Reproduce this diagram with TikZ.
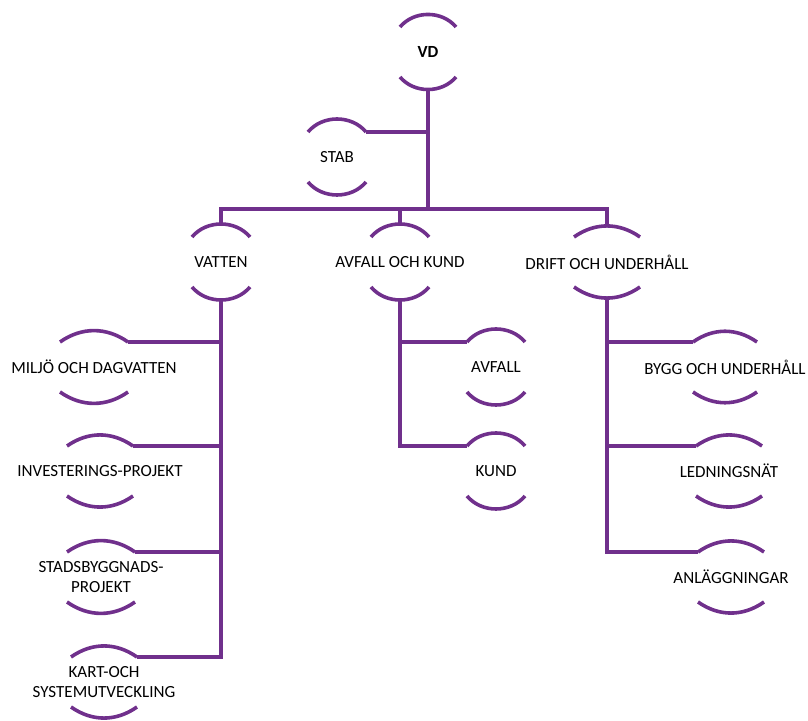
\documentclass[tikz,border=0pt]{standalone}
\usepackage{fontspec}
\setmainfont{Carlito}
\usetikzlibrary{calc}

\definecolor{orgpurple}{RGB}{112,48,140}
\tikzset{
  orgline/.style={draw=orgpurple, line width=3.6pt},
  unit/.style={align=center, inner sep=0pt, font=\fontsize{17}{19.5}\selectfont},
}
% two arcs round a unit, with named end points
\newcommand{\rim}[3]{%
  \draw[orgline] ($(#1)+(-#2,25)$) coordinate (#1-tl) to[bend left=#3] node[coordinate, pos=.5] (#1-top) {} ($(#1)+(#2,25)$) coordinate (#1-tr);
  \draw[orgline] ($(#1)+(-#2,-25)$) coordinate (#1-bl) to[bend right=#3] node[coordinate, pos=.5] (#1-bot) {} ($(#1)+(#2,-25)$) coordinate (#1-br);
}

\begin{document}
\begin{tikzpicture}[x=1pt, y=1pt]
  \useasboundingbox (0,0) rectangle (808,720);
  \node[unit, font=\fontsize{17}{19.5}\selectfont\bfseries] (vd) at (428,668) {VD};
  \node[unit] (stab) at (337,563) {STAB};
  \node[unit] (vatten) at (221,458) {VATTEN};
  \node[unit] (avfallkund) at (400,458) {AVFALL OCH KUND};
  \node[unit] (drift) at (607,458) {DRIFT OCH UNDERHÅLL};
  \node[unit] (miljo) at (94,353) {MILJÖ OCH DAGVATTEN};
  \node[unit] (invest) at (100,249) {INVESTERINGS-PROJEKT};
  \node[unit] (stads) at (101,143) {STADSBYGGNADS-\\PROJEKT};
  \node[unit] (kart) at (104,38) {KART-OCH\\SYSTEMUTVECKLING};
  \node[unit] (avfall) at (496,353) {AVFALL};
  \node[unit] (kund) at (496,249) {KUND};
  \node[unit] (bygg) at (725,353) {BYGG OCH UNDERHÅLL};
  \node[unit] (ledn) at (729,249) {LEDNINGSNÄT};
  \node[unit] (anl) at (731,143) {ANLÄGGNINGAR};

  \rim{vd}{28}{50}
  \rim{stab}{29}{50}
  \rim{vatten}{29}{50}
  \rim{avfallkund}{29}{50}
  \rim{drift}{33}{35}
  \rim{miljo}{34}{35}
  \rim{invest}{33}{35}
  \rim{stads}{34}{35}
  \rim{kart}{33}{35}
  \rim{avfall}{29}{50}
  \rim{kund}{29}{50}
  \rim{bygg}{32}{35}
  \rim{ledn}{33}{35}
  \rim{anl}{33}{35}

  \coordinate (bus) at (428,511);
  \draw[orgline] (vd-bot) -- (bus);
  \draw[orgline] (stab-tr) -- (stab-tr -| vd-bot);
  \draw[orgline] (vatten-top) |- (bus) -| (drift-top);
  \draw[orgline] (avfallkund-top) -- (avfallkund-top |- bus);

  \draw[orgline] (vatten-bot) |- (kart-tr);
  \draw[orgline] (miljo-tr) -- (miljo-tr -| vatten-bot);
  \draw[orgline] (invest-tr) -- (invest-tr -| vatten-bot);
  \draw[orgline] (stads-tr) -- (stads-tr -| vatten-bot);

  \draw[orgline] (avfallkund-bot) |- (kund-tl);
  \draw[orgline] (avfall-tl) -- (avfall-tl -| avfallkund-bot);

  \draw[orgline] (drift-bot) |- (anl-tl);
  \draw[orgline] (bygg-tl) -- (bygg-tl -| drift-bot);
  \draw[orgline] (ledn-tl) -- (ledn-tl -| drift-bot);
\end{tikzpicture}
\end{document}
